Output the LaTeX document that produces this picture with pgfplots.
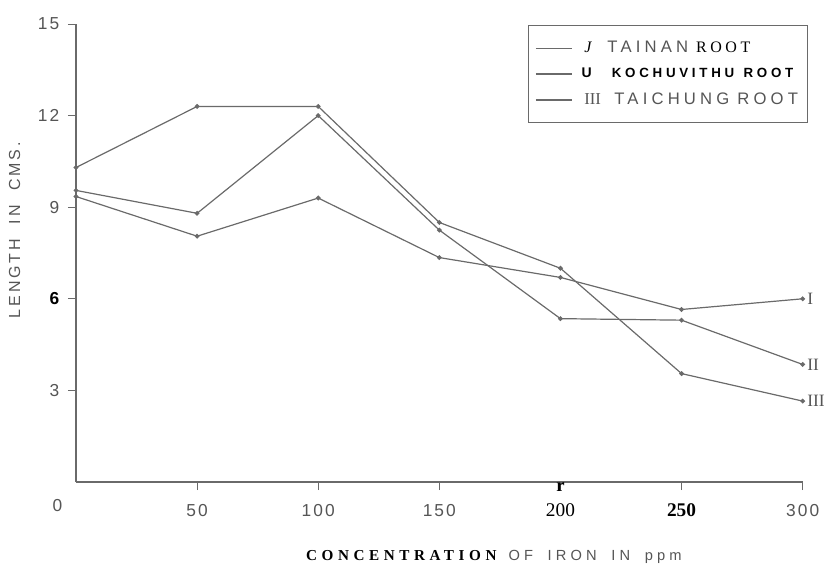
\documentclass[border=0pt]{standalone}
\usepackage{fontspec}
\setmainfont{Liberation Sans}
\newfontfamily\serif{Liberation Serif}
\newfontfamily\hand[LetterSpace=12]{Liberation Sans}
\newfontfamily\ylab[LetterSpace=18]{Liberation Sans}
\newfontfamily\xlabs[LetterSpace=28]{Liberation Sans}
\newfontfamily\xlabserif[LetterSpace=30]{Liberation Serif}
\newfontfamily\legsans[LetterSpace=25]{Liberation Sans}
\newfontfamily\legbold[LetterSpace=28]{Liberation Sans}
\newfontfamily\legserif[LetterSpace=22]{Liberation Serif}
\usepackage{pgfplots}
\pgfplotsset{compat=1.18}
\definecolor{pencil}{HTML}{6A6A6A}
\definecolor{lbl}{HTML}{555555}

% root length (cm) against iron concentration (ppm)
\pgfplotstableread{
x    I     II    III
0    9.35  9.55  10.3
50   8.05  8.8   12.3
100  9.3   12.0  12.3
150  7.35  8.25  8.5
200  6.7   5.35  7.0
250  5.65  5.3   3.55
300  6.0   3.85  2.65
}\roots

\begin{document}
\begin{tikzpicture}
\path[use as bounding box] (-57pt,-63.75pt) rectangle (563.25pt,361.5pt);
\begin{axis}[
  at={(0,0)}, anchor=south west,
  scale only axis, width=545pt, height=343.5pt,
  xmin=0, xmax=300, ymin=0, ymax=15,
  axis x line*=bottom, axis y line*=left,
  axis line style={pencil, line width=0.8pt},
  clip=false,
  xtick={50,100,150,200,250,300},
  xticklabels={\textcolor{lbl}{\hand 50},\textcolor{lbl}{\hand 100},\textcolor{lbl}{\hand 150},
    {\serif\fontsize{14.5}{15}\selectfont 200},{\serif\bfseries\fontsize{14.5}{15}\selectfont 250},\textcolor{lbl}{\hand 300}},
  ytick={3,6,9,12,15},
  yticklabels={\textcolor{lbl}{\hand 3},\textbf{6},\textcolor{lbl}{\hand 9},\textcolor{lbl}{\hand 12},\textcolor{lbl}{\hand 15}},
  ticklabel style={font=\fontsize{13}{14}\selectfont},
  yticklabel style={xshift=-3pt},
  xticklabel style={yshift=-7pt},
  tick align=outside, major tick length=6pt,
  tick style={pencil, line width=0.7pt},
  legend style={at={(rel axis cs:0.622,0.998)}, anchor=north west,
    draw=pencil, line width=0.8pt, font=\fontsize{12}{13}\selectfont,
    inner xsep=5pt, inner ysep=10pt, row sep=6pt},
  legend cell align=left,
  legend image code/.code={\draw[#1, mark=none] (0pt,0pt) -- (27pt,0pt);},
]
\addplot[pencil, line width=0.9pt, mark=*, mark size=1.3pt] table[y=I]{\roots};
\addlegendentry{\hspace{7pt}{\serif\itshape J}\hspace{12pt}\textcolor{lbl}{\legsans\fontsize{12.5}{13}\selectfont TAINAN}\hspace{6pt}{\legserif\fontsize{12}{13}\selectfont ROOT}}
\addplot[pencil, line width=0.9pt, mark=*, mark size=1.3pt] table[y=II]{\roots};
\addlegendentry{\hspace{5pt}{\bfseries\fontsize{10.5}{13}\selectfont U}\hspace{15pt}{\legbold\bfseries\fontsize{10}{13}\selectfont KOCHUVITHU}\hspace{7pt}{\legbold\bfseries\fontsize{10}{13}\selectfont ROOT}}
\addplot[pencil, line width=0.9pt, mark=*, mark size=1.3pt] table[y=III]{\roots};
\addlegendentry{\hspace{7pt}\textcolor{lbl}{{\serif\fontsize{12.5}{13}\selectfont III}\hspace{10pt}{\legsans\fontsize{12.5}{13}\selectfont TAICHUNG}\hspace{6pt}{\legsans\fontsize{12.5}{13}\selectfont ROOT}}}

\node[anchor=west, text=lbl, font=\serif\fontsize{13}{13}\selectfont] at (axis cs:300,6.0) {I};
\node[anchor=west, text=lbl, font=\serif\fontsize{13}{13}\selectfont] at (axis cs:300,3.85) {II};
\node[anchor=west, text=lbl, font=\serif\fontsize{13}{13}\selectfont] at (axis cs:300,2.65) {III};

\node[text=lbl, font=\hand\fontsize{13}{14}\selectfont] at ([xshift=-14pt, yshift=-18pt]axis cs:0,0) {0};
\node[anchor=north, inner sep=0pt, font=\serif\bfseries\fontsize{14}{14}\selectfont] at ([yshift=-0.5pt]axis cs:200,0) {r};

\node[rotate=90, text=lbl, font=\ylab\fontsize{12}{13}\selectfont] at ([xshift=-46pt]rel axis cs:0,0.55)
  {LENGTH\hspace{11pt}IN\hspace{11pt}CMS.};
\node[anchor=base, font=\fontsize{11.4}{12}\selectfont] at ([yshift=-58.5pt]rel axis cs:0.575,0)
  {{\xlabserif\bfseries CONCENTRATION}\hspace{9pt}\textcolor{lbl}{\xlabs\fontsize{11}{12}\selectfont OF\hspace{11pt}IRON\hspace{11pt}IN\hspace{11pt}ppm}};
\end{axis}
\end{tikzpicture}
\end{document}
